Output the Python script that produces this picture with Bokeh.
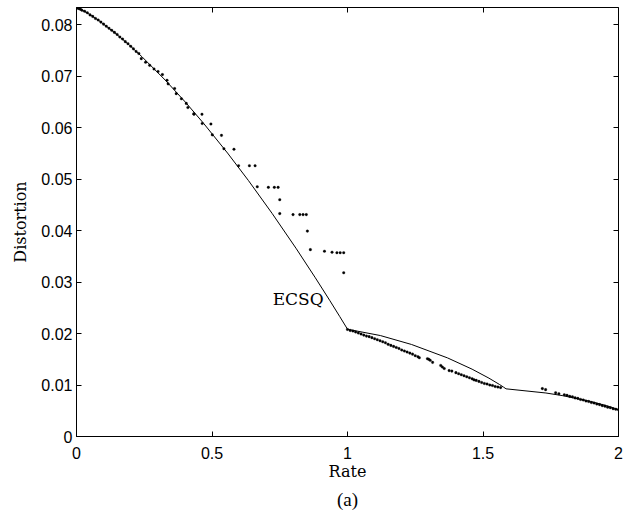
from bokeh.plotting import figure
from bokeh.models import LinearAxis, FixedTicker, Range1d, Title, Label
from bokeh.embed import file_html
from bokeh.resources import INLINE

# ---------------- data ----------------
# ECSQ operational curve (rate, distortion)
ecsq_rate = [0.0, 0.0208, 0.0454, 0.0808, 0.1414, 0.1944, 0.2423, 0.3274, 0.4022,
             0.469, 0.5574, 0.6343, 0.7219, 0.8113, 0.8813, 0.9341, 0.9710, 0.9928,
             0.9989, 1.0, 1.1214, 1.2364, 1.369, 1.4598, 1.522, 1.5613, 1.5754,
             1.5813, 1.585, 1.732, 1.7921, 1.8955, 1.9572, 1.9899, 2.0]
ecsq_dist = [0.08333, 0.08283, 0.08209, 0.08086, 0.07843, 0.07606, 0.07373, 0.06923,
             0.06493, 0.06083, 0.05506, 0.04973, 0.04333, 0.03646, 0.03083, 0.02646,
             0.02333, 0.02146, 0.02093, 0.020833, 0.019609, 0.017872, 0.015271,
             0.013076, 0.011333, 0.010091, 0.009605, 0.009396, 0.009259, 0.008451,
             0.00795, 0.006833, 0.005966, 0.005407, 0.005208]

# simulated quantizer points, low-rate branch
dots_a_rate = [0.005, 0.01, 0.015, 0.02, 0.03, 0.04, 0.05, 0.06, 0.07, 0.08, 0.09, 0.10,
               0.11, 0.12, 0.13, 0.14, 0.15, 0.16, 0.17, 0.18, 0.19, 0.20, 0.21, 0.22,
               0.23, 0.239, 0.255, 0.270, 0.286, 0.301, 0.317, 0.334, 0.338, 0.362,
               0.368, 0.387, 0.405, 0.411, 0.433]
dots_a_dist = [0.0832, 0.0831, 0.0830, 0.0828, 0.0826, 0.0823, 0.0819, 0.0816, 0.0812,
               0.0809, 0.0805, 0.0801, 0.0797, 0.0793, 0.0789, 0.0785, 0.0781, 0.0776,
               0.0772, 0.0767, 0.0763, 0.0758, 0.0753, 0.0748, 0.0744, 0.0734, 0.0727,
               0.0721, 0.0714, 0.0709, 0.0703, 0.0692, 0.0685, 0.0676, 0.0666, 0.0656,
               0.0647, 0.0639, 0.0627]

# scattered points between rate 0.4 and 1
dots_m_rate = [0.4335, 0.463, 0.464, 0.496, 0.501, 0.535, 0.544, 0.581, 0.598, 0.638,
               0.659, 0.667, 0.708, 0.730, 0.744, 0.750, 0.750, 0.799, 0.824, 0.836,
               0.848, 0.852, 0.863, 0.915, 0.943, 0.961, 0.973, 0.986, 0.986]
dots_m_dist = [0.0626, 0.0626, 0.0608, 0.0607, 0.0586, 0.0585, 0.0559, 0.0558, 0.0526,
               0.0526, 0.0526, 0.0485, 0.0484, 0.0484, 0.0484, 0.0460, 0.0433, 0.0431,
               0.0431, 0.0431, 0.0431, 0.0399, 0.0363, 0.0360, 0.0358, 0.0357, 0.0357,
               0.0357, 0.0318]

# points between rate 1 and 1.585
dots_b_rate = [1.00, 1.01, 1.02, 1.03, 1.04, 1.05, 1.06, 1.07, 1.08, 1.09, 1.10, 1.11,
               1.12, 1.13, 1.14, 1.15, 1.16, 1.17, 1.18, 1.19, 1.20, 1.21, 1.22, 1.23,
               1.24, 1.25, 1.26, 1.265, 1.295, 1.300, 1.305, 1.314, 1.344, 1.350, 1.357,
               1.375, 1.385, 1.400, 1.410, 1.420, 1.430, 1.440, 1.450, 1.460, 1.467,
               1.475, 1.485, 1.495, 1.505, 1.515, 1.525, 1.535, 1.545, 1.555, 1.565]
dots_b_dist = [0.0208, 0.0206, 0.0205, 0.0203, 0.0201, 0.0199, 0.0197, 0.0195, 0.0194,
               0.0192, 0.0190, 0.0188, 0.0186, 0.0184, 0.0182, 0.0179, 0.0177, 0.0175,
               0.0173, 0.0171, 0.0168, 0.0166, 0.0164, 0.0162, 0.0160, 0.0157, 0.0155,
               0.0153, 0.0151, 0.0150, 0.0148, 0.0144, 0.0138, 0.0135, 0.0132, 0.0128,
               0.0127, 0.0124, 0.0122, 0.0120, 0.0118, 0.0116, 0.0114, 0.0112, 0.0110,
               0.0109, 0.0107, 0.0105, 0.0103, 0.0102, 0.0100, 0.0099, 0.0097, 0.0096,
               0.0095]

# points between rate 1.7 and 2
dots_c_rate = [1.719, 1.731, 1.768, 1.780, 1.80, 1.81, 1.82, 1.83, 1.84, 1.85, 1.86,
               1.87, 1.88, 1.89, 1.90, 1.91, 1.92, 1.93, 1.94, 1.95, 1.96, 1.97, 1.98,
               1.99, 2.00]
dots_c_dist = [0.0093, 0.0091, 0.0085, 0.0083, 0.0081, 0.0080, 0.0078, 0.0077, 0.0075,
               0.0074, 0.0072, 0.0071, 0.0069, 0.0068, 0.0066, 0.0065, 0.0063, 0.0062,
               0.0060, 0.0059, 0.0057, 0.0056, 0.0054, 0.0053, 0.0052]

x_ticks = [0, 0.5, 1, 1.5, 2]
x_tick_labels = ["0", "0.5", "1", "1.5", "2"]
y_ticks = [0, 0.01, 0.02, 0.03, 0.04, 0.05, 0.06, 0.07, 0.08]
y_tick_labels = ["0", "0.01", "0.02", "0.03", "0.04", "0.05", "0.06", "0.07", "0.08"]

curve_label = "ECSQ"
curve_label_pos = (0.818, 0.0268)

# ---------------- figure ----------------
SANS = "Liberation Sans"
SERIF = "DejaVu Serif"

p = figure(width=626, height=512, output_backend="svg", toolbar_location=None,
           x_range=Range1d(0, 2), y_range=Range1d(0, 1 / 12),
           min_border_left=76, min_border_right=8, min_border_top=7,
           min_border_bottom=60)
p.grid.visible = False
p.outline_line_color = "black"
p.outline_line_width = 1
p.background_fill_color = "white"
p.border_fill_color = "white"


def style_axis(ax, ticks, labels, show_labels=True):
    ax.ticker = FixedTicker(ticks=ticks)
    ax.major_label_overrides = dict(zip(ticks, labels))
    ax.major_tick_in = 5
    ax.major_tick_out = 0
    ax.minor_tick_line_color = None
    ax.major_tick_line_color = "black"
    ax.axis_line_color = "black"
    ax.major_label_text_font = SANS
    ax.major_label_text_font_size = "16px"
    ax.major_label_text_color = "black"
    ax.axis_label_text_font = SERIF
    ax.axis_label_text_font_size = "16px"
    ax.axis_label_text_font_style = "normal"
    ax.axis_label_text_color = "black"
    if not show_labels:
        ax.major_label_text_font_size = "0px"
        ax.major_label_text_alpha = 0
        ax.axis_line_color = None
        ax.major_label_standoff = 0


style_axis(p.xaxis[0], x_ticks, x_tick_labels)
style_axis(p.yaxis[0], y_ticks, y_tick_labels)
p.xaxis[0].axis_label = "Rate"
p.yaxis[0].axis_label = "Distortion"
p.xaxis[0].major_label_standoff = 10
p.xaxis[0].axis_label_standoff = 0
p.yaxis[0].major_label_standoff = 4
p.yaxis[0].axis_label_standoff = 8

top_ax = LinearAxis()
right_ax = LinearAxis()
style_axis(top_ax, x_ticks, x_tick_labels, show_labels=False)
style_axis(right_ax, y_ticks, y_tick_labels, show_labels=False)
p.add_layout(top_ax, "above")
p.add_layout(right_ax, "right")

p.line(ecsq_rate, ecsq_dist, line_color="black", line_width=1)

for xs, ys in [(dots_a_rate, dots_a_dist), (dots_m_rate, dots_m_dist),
               (dots_b_rate, dots_b_dist), (dots_c_rate, dots_c_dist)]:
    p.scatter(xs, ys, marker="circle", size=2.6, fill_color="black",
              line_color="black", line_width=0.3)

p.add_layout(Label(x=curve_label_pos[0], y=curve_label_pos[1], text=curve_label,
                   text_font=SERIF, text_font_size="17px", text_align="center",
                   text_baseline="middle", text_color="black"))

p.add_layout(Title(text="(a)", align="center", text_font="Liberation Serif",
                   text_font_size="19px", text_font_style="normal",
                   text_color="black", standoff=6), "below")

open("out.html", "w").write(file_html(p, INLINE))
